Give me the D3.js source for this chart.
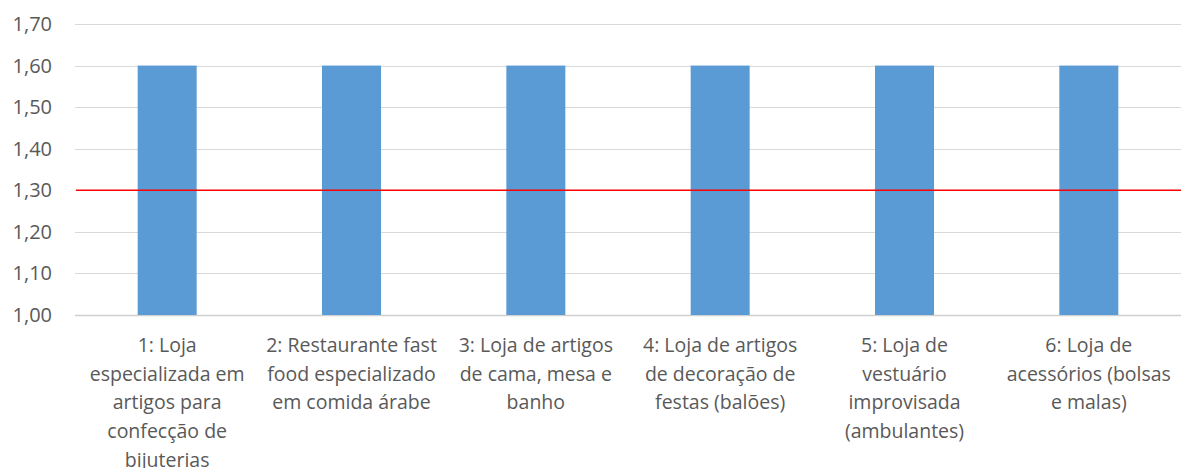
<!DOCTYPE html>
<html>
<head>
<meta charset="utf-8">
<script src="https://cdn.jsdelivr.net/npm/d3@7"></script>
<style>
  body { margin: 0; background: #fff; }
  svg text { font-family: "Open Sans", sans-serif; }
</style>
</head>
<body>
<svg id="chart"></svg>
<script>
// category labels, already broken into lines as in the original
const categories = [
  ["1: Loja", "especializada em", "artigos para", "confecção de", "bijuterias"],
  ["2: Restaurante fast", "food especializado", "em comida árabe"],
  ["3: Loja de artigos", "de cama, mesa e", "banho"],
  ["4: Loja de artigos", "de decoração de", "festas (balões)"],
  ["5: Loja de", "vestuário", "improvisada", "(ambulantes)"],
  ["6: Loja de", "acessórios (bolsas", "e malas)"]
];
const values = [1.6, 1.6, 1.6, 1.6, 1.6, 1.6];
const limitValue = 1.3;
const yTicks = [1.0, 1.1, 1.2, 1.3, 1.4, 1.5, 1.6, 1.7];

const width = 1181, height = 468;
const margin = {top: 24, right: 0, bottom: 153, left: 75};

const svg = d3.select("#chart")
    .attr("width", width)
    .attr("height", height);

const x = d3.scaleBand()
    .domain(d3.range(categories.length))
    .range([margin.left, width - margin.right])
    .paddingInner(0.68)
    .paddingOuter(0.34);

const y = d3.scaleLinear()
    .domain([1.0, 1.7])
    .range([height - margin.bottom, margin.top]);

const fmt = d => d3.format(".2f")(d).replace(".", ",");

// gridlines
svg.append("g")
  .selectAll("line")
  .data(yTicks)
  .join("line")
    .attr("x1", margin.left)
    .attr("x2", width - margin.right)
    .attr("y1", d => Math.round(y(d)) + 0.5)
    .attr("y2", d => Math.round(y(d)) + 0.5)
    .attr("stroke", d => d === 1.0 ? "#d0d0d0" : "#d9d9d9")
    .attr("stroke-width", d => d === 1.0 ? 1.5 : 1);

// y tick labels
svg.append("g")
  .selectAll("text")
  .data(yTicks)
  .join("text")
    .attr("x", 52)
    .attr("y", d => y(d))
    .attr("dy", "0.35em")
    .attr("text-anchor", "end")
    .attr("font-size", "20px")
    .attr("fill", "#595959")
    .text(fmt);

// bars
svg.append("g")
  .selectAll("rect")
  .data(values)
  .join("rect")
    .attr("x", (d, i) => x(i))
    .attr("width", x.bandwidth())
    .attr("y", d => y(d))
    .attr("height", d => y(1.0) - y(d))
    .attr("fill", "#5b9bd5");

// reference line
svg.append("line")
    .attr("x1", margin.left + 1)
    .attr("x2", width - margin.right)
    .attr("y1", y(limitValue))
    .attr("y2", y(limitValue))
    .attr("stroke", "#ff0000")
    .attr("stroke-width", 1.5);

// category labels
const labels = svg.append("g")
  .selectAll("text")
  .data(categories)
  .join("text")
    .attr("x", (d, i) => x(i) + x.bandwidth() / 2)
    .attr("y", 352)
    .attr("text-anchor", "middle")
    .attr("font-size", "19.5px")
    .attr("fill", "#595959");

labels.selectAll("tspan")
  .data(d => d)
  .join("tspan")
    .attr("x", function() { return d3.select(this.parentNode).attr("x"); })
    .attr("dy", (d, i) => i === 0 ? 0 : 28.7)
    .text(d => d);
</script>
</body>
</html>
